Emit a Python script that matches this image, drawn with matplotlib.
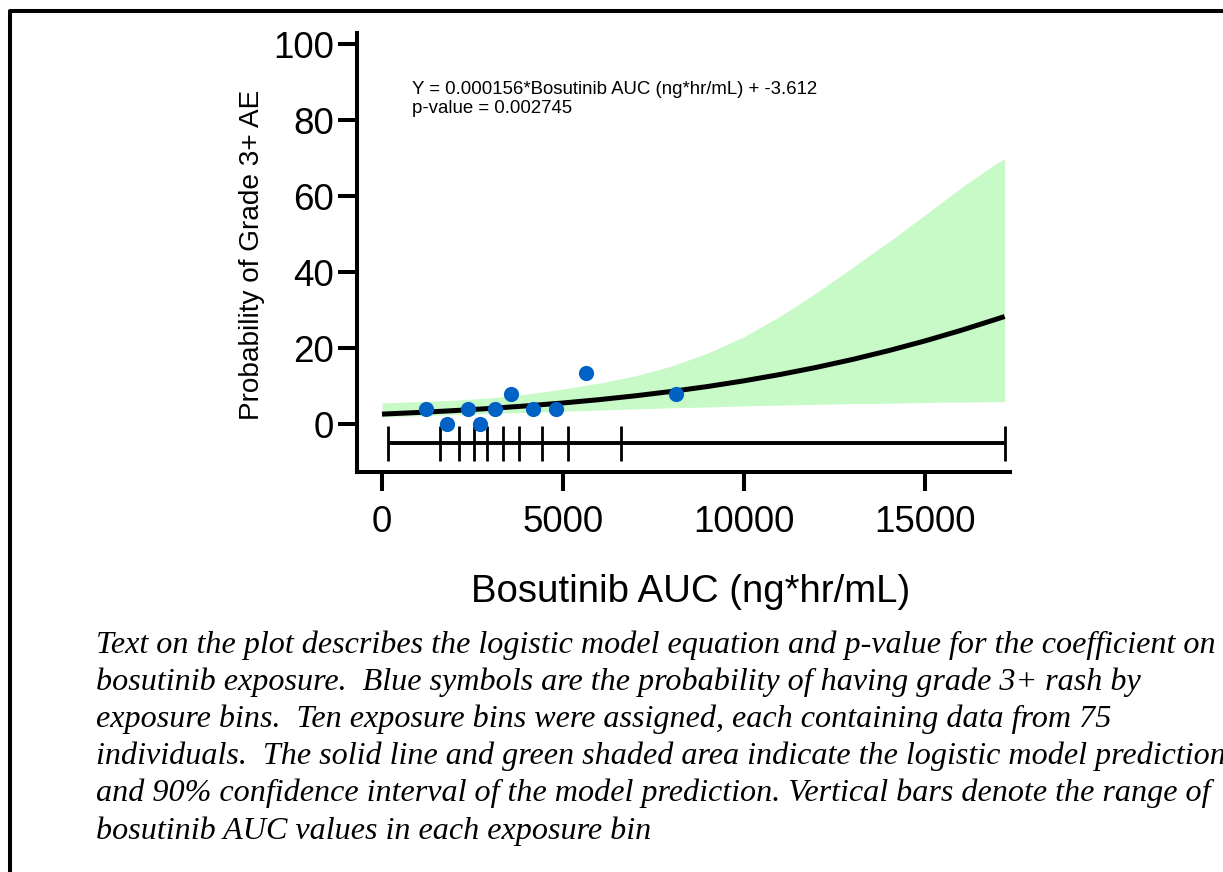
import matplotlib.pyplot as plt
from matplotlib.lines import Line2D

# binned observed probabilities (%)
bin_x = [1215, 1804, 2367, 2707, 3130, 3564, 4163, 4798, 5627, 8122]
bin_prob = [4, 0, 4, 0, 4, 8, 4, 4, 13.33, 8]

# edges of the ten exposure bins
bin_edges = [157, 1602, 2135, 2541, 2892, 3334, 3793, 4412, 5130, 6594, 17210]

# model prediction and 90% CI
pred_x = [0, 1000, 2000, 3000, 4000, 5000, 6000, 7000, 8000, 9000,
          10000, 11000, 12000, 13000, 14000, 15000, 16000, 17000, 17200]
pred_y = [2.63, 3.06, 3.56, 4.13, 4.80, 5.56, 6.44, 7.45, 8.60, 9.90,
          11.39, 13.06, 14.93, 17.02, 19.34, 21.89, 24.68, 27.69, 28.31]
ci_low = [1.9, 2.2, 2.5, 2.8, 3.1, 3.4, 3.7, 4.0, 4.3, 4.5,
          4.8, 5.0, 5.2, 5.4, 5.5, 5.7, 5.8, 5.9, 5.9]
ci_high = [5.6, 5.9, 6.3, 6.9, 7.9, 9.2, 10.8, 12.7, 15.3, 18.7,
           23.0, 28.4, 34.6, 41.2, 48.0, 55.0, 62.2, 68.8, 69.8]

x_ticks = [0, 5000, 10000, 15000]
y_ticks = [0, 20, 40, 60, 80, 100]

caption = [
    "Text on the plot describes the logistic model equation and p-value for the coefficient on",
    "bosutinib exposure.  Blue symbols are the probability of having grade 3+ rash by",
    "exposure bins.  Ten exposure bins were assigned, each containing data from 75",
    "individuals.  The solid line and green shaded area indicate the logistic model prediction",
    "and 90% confidence interval of the model prediction. Vertical bars denote the range of",
    "bosutinib AUC values in each exposure bin",
]

plt.rcParams['font.family'] = ['Liberation Sans', 'DejaVu Sans']

W, H = 1223, 872
fig = plt.figure(figsize=(W / 100, H / 100), dpi=100)
ax = fig.add_axes([357 / W, 1 - 472 / H, (1010 - 357) / W, (472 - 33) / H])

ax.fill_between(pred_x, ci_low, ci_high, color='#c8fac8', lw=0)
ax.plot(pred_x, pred_y, color='black', lw=3.6, solid_capstyle='butt')
ax.scatter(bin_x, bin_prob, s=120, color='#0062c4', zorder=3, lw=0)

# range bars for the exposure bins
ax.hlines(-5, bin_edges[0], bin_edges[-1], color='black', lw=2.8)
ax.vlines(bin_edges, -0.4, -9.6, color='black', lw=2.0)

ax.set_xlim(-691, 17348)
ax.set_ylim(-12.6, 102.9)
ax.set_xticks(x_ticks)
ax.set_yticks(y_ticks)
for s in ['top', 'right']:
    ax.spines[s].set_visible(False)
for s in ['left', 'bottom']:
    ax.spines[s].set_linewidth(2.9)
ax.tick_params(axis='both', width=2.9, length=13.5, labelsize=26.5)
ax.tick_params(axis='x', pad=10)
ax.tick_params(axis='y', pad=3)

fig.text(691 / W, 1 - 592 / H, "Bosutinib AUC (ng*hr/mL)", ha='center', va='center', fontsize=27.6)
fig.text(252 / W, 1 - 255 / H, "Probability of Grade 3+ AE", ha='center', va='center',
         rotation=90, fontsize=20.2)

fig.text(412 / W, 1 - 94 / H, "Y = 0.000156*Bosutinib AUC (ng*hr/mL) + -3.612",
         ha='left', va='baseline', fontsize=13.4)
fig.text(412 / W, 1 - 113 / H, "p-value = 0.002745", ha='left', va='baseline', fontsize=13.4)

for i, line in enumerate(caption):
    fig.text(96 / W, 1 - (653 + 37.1 * i) / H, line, ha='left', va='baseline',
             fontsize=23.1, style='italic', family='Liberation Serif')

# frame around the figure (left and top edges)
fig.add_artist(Line2D([10.3 / W, 10.3 / W, 1.01], [-0.01, 1 - 11.5 / H, 1 - 11.5 / H],
                      transform=fig.transFigure, color='black', lw=2.9))

fig.savefig('out.png', dpi=100)
